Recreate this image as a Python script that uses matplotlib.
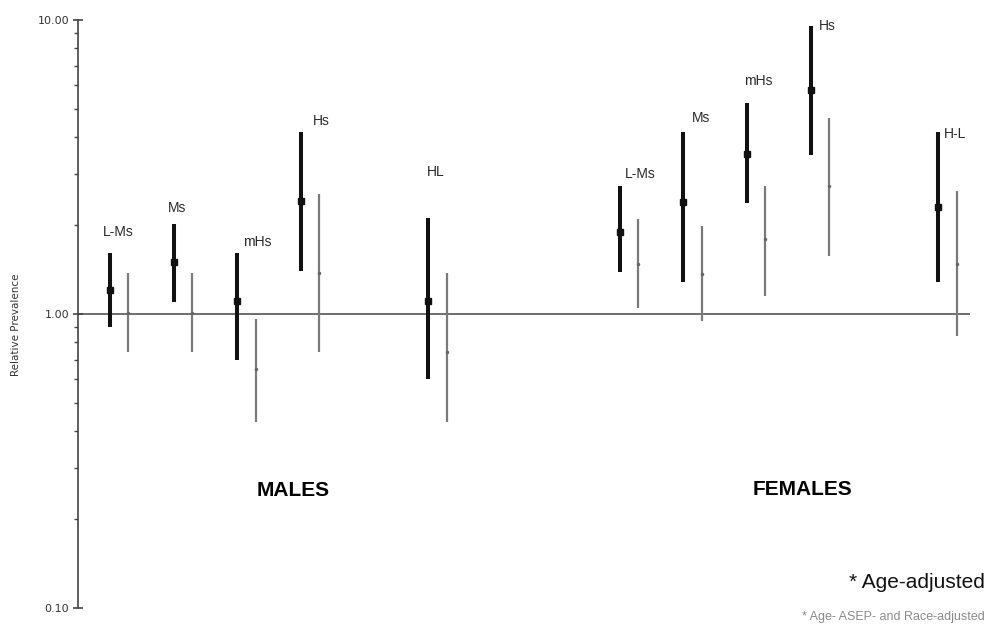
import numpy as np
import matplotlib.pyplot as plt
from matplotlib.ticker import FixedLocator, LogLocator, NullFormatter

# Relative prevalence with CI, by subtype and sex
labels = ['L-Ms', 'Ms', 'mHs', 'Hs', 'HL', 'L-Ms', 'Ms', 'mHs', 'Hs', 'H-L']

# age-adjusted estimates
age_est = [1.21, 1.50, 1.11, 2.42, 1.11, 1.90, 2.40, 3.50, 5.78, 2.31]
age_lo = [0.90, 1.10, 0.70, 1.40, 0.60, 1.39, 1.28, 2.38, 3.47, 1.28]
age_hi = [1.61, 2.02, 1.61, 4.16, 2.12, 2.72, 4.16, 5.22, 9.54, 4.16]

# age-, ASEP- and race-adjusted estimates
full_est = [1.01, 1.01, 0.65, 1.38, 0.74, 1.48, 1.37, 1.80, 2.72, 1.48]
full_lo = [0.74, 0.74, 0.43, 0.74, 0.43, 1.05, 0.95, 1.15, 1.58, 0.84]
full_hi = [1.38, 1.38, 0.96, 2.56, 1.38, 2.10, 1.99, 2.72, 4.64, 2.62]

# slots along the x axis (gap between males and females)
slots = np.array([0, 1, 2, 3, 5, 8, 9, 10, 11, 13], dtype=float)
shift = 0.29

# where each subtype label sits: (x offset from slot, y value)
label_pos = [(-0.11, 1.90), (-0.09, 2.29), (0.09, 1.76), (0.19, 4.53), (-0.02, 3.04),
             (0.09, 2.99), (0.14, 4.64), (-0.05, 6.20), (0.13, 9.54), (0.09, 4.10)]

sans = ['Liberation Sans', 'DejaVu Sans']

fig = plt.figure(figsize=(9.87, 6.35), dpi=100)
ax = fig.add_axes([78 / 987, 27 / 635, 892 / 987, 588 / 635])

ax.set_yscale('log')
ax.set_ylim(0.1, 10)
ax.set_xlim(-0.5, 13.5)

ax.axhline(1.0, color='#555555', lw=1.2, zorder=1)

# age-adjusted: thick black bars with square markers
ax.vlines(slots, age_lo, age_hi, color='#111111', lw=2.9, zorder=3)
ax.plot(slots, age_est, 's', color='#111111', ms=5, zorder=4)

# fully adjusted: thin gray bars
ax.vlines(slots + shift, full_lo, full_hi, color='#7a7a7a', lw=1.6, zorder=2)
ax.plot(slots + shift, full_est, 'o', color='#666666', ms=1.5, zorder=2)

for s, lab, (dx, yv) in zip(slots, labels, label_pos):
    ax.text(s + dx, yv, lab, ha='left', va='center', fontsize=10,
            family=sans, color='#2a2a2a')

ax.text(0.241, 0.199, 'MALES', transform=ax.transAxes, ha='center', va='center',
        fontsize=15, fontweight='bold', family=sans)
ax.text(0.812, 0.201, 'FEMALES', transform=ax.transAxes, ha='center', va='center',
        fontsize=15, fontweight='bold', family=sans)

# axis styling: only the left spine
for side in ['top', 'right', 'bottom']:
    ax.spines[side].set_visible(False)
ax.spines['left'].set_color('#444444')
ax.spines['left'].set_linewidth(1.2)
ax.set_xticks([])

ax.yaxis.set_major_locator(FixedLocator([0.1, 1, 10]))
ax.set_yticklabels(['0.10', '1.00', '10.00'], fontsize=8, color='#333333')
ax.yaxis.set_minor_locator(LogLocator(base=10, subs=np.arange(2, 10)))
ax.yaxis.set_minor_formatter(NullFormatter())
ax.tick_params(axis='y', which='major', direction='inout', length=7, width=1.2,
               color='#444444', pad=3)
ax.tick_params(axis='y', which='minor', direction='out', length=3, width=1.0,
               color='#444444')

fig.text(16 / 987, 1 - 325 / 635, 'Relative Prevalence', rotation=90,
         ha='center', va='center', fontsize=7.5, color='#333333')

fig.text(985 / 987, 1 - 582 / 635, '* Age-adjusted', ha='right', va='center',
         fontsize=15, family=sans, color='#111111')
fig.text(985 / 987, 1 - 617 / 635, '* Age- ASEP- and Race-adjusted', ha='right',
         va='center', fontsize=9, family=sans, color='#8a8a8a')

fig.savefig('out.png', dpi=100)
